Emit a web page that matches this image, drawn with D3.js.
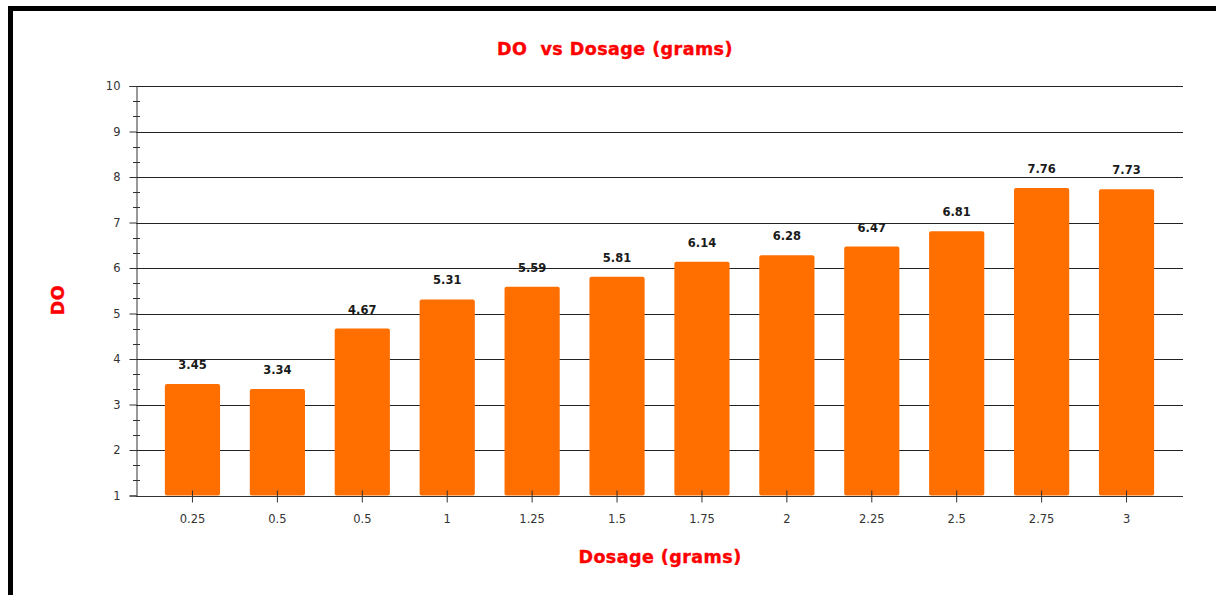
<!DOCTYPE html>
<html>
<head>
<meta charset="utf-8">
<script src="https://cdn.jsdelivr.net/npm/d3@7"></script>
<style>
  html, body { margin: 0; padding: 0; background: #fff; }
  svg { display: block; }
</style>
</head>
<body>
<svg id="chart" width="1216" height="595"></svg>
<script>
// Dissolved oxygen measured at each dosage step
const categories = ["0.25", "0.5", "0.5", "1", "1.25", "1.5", "1.75", "2", "2.25", "2.5", "2.75", "3"];
const doValues = [3.45, 3.34, 4.67, 5.31, 5.59, 5.81, 6.14, 6.28, 6.47, 6.81, 7.76, 7.73];
const yTicks = [1, 2, 3, 4, 5, 6, 7, 8, 9, 10];

const svg = d3.select("#chart");
const plotLeft = 136, plotRight = 1183, plotTop = 86, plotBottom = 495.5;

// Frame around the chart
svg.append("rect")
  .attr("x", 10.5).attr("y", 8.5)
  .attr("width", 1260).attr("height", 640)
  .attr("fill", "none").attr("stroke", "#000").attr("stroke-width", 5);

const idx = categories.map((c, i) => i);
const x = d3.scaleBand().domain(idx).range([plotLeft, plotRight]).paddingInner(0.35).paddingOuter(0.34);
const y = d3.scaleLinear().domain([1, 10]).range([plotBottom, plotTop]);

const tickFont = "'DejaVu Sans', sans-serif";

// Horizontal gridlines
svg.append("g").selectAll("line").data(yTicks.slice(1)).join("line")
  .attr("x1", plotLeft).attr("x2", plotRight)
  .attr("y1", d => Math.round(y(d)) + 0.5).attr("y2", d => Math.round(y(d)) + 0.5)
  .attr("stroke", "#222").attr("stroke-width", 1);

// Bars
svg.append("g").selectAll("rect").data(doValues).join("rect")
  .attr("x", (d, i) => x(i)).attr("width", x.bandwidth())
  .attr("y", d => y(d)).attr("height", d => y(1) - y(d))
  .attr("rx", 2).attr("ry", 2)
  .attr("fill", "#FF6F00");

// Value labels
svg.append("g").selectAll("text").data(doValues).join("text")
  .attr("x", (d, i) => x(i) + x.bandwidth() / 2)
  .attr("y", d => y(d) - 15)
  .attr("text-anchor", "middle")
  .attr("font-family", tickFont).attr("font-weight", "bold").attr("font-size", 11.5)
  .attr("fill", "#1a1a1a")
  .text(d => d.toFixed(2));

// Y axis with major and minor ticks
const yAxis = d3.axisLeft(y).tickValues(yTicks).tickSize(7).tickPadding(9).tickFormat(d3.format("d"));
const gy = svg.append("g").attr("transform", `translate(${plotLeft + 0.5},0)`).call(yAxis);
gy.select(".domain").attr("stroke", "#333");
gy.selectAll(".tick line").attr("stroke", "#333");
gy.selectAll(".tick text").attr("font-family", tickFont).attr("font-size", 11.5).attr("fill", "#333");

const minor = [];
yTicks.slice(0, -1).forEach(v => { minor.push(v + 1 / 3, v + 2 / 3); });
svg.append("g").selectAll("line").data(minor).join("line")
  .attr("x1", plotLeft - 3).attr("x2", plotLeft + 4)
  .attr("y1", d => Math.round(y(d)) + 0.5).attr("y2", d => Math.round(y(d)) + 0.5)
  .attr("stroke", "#333");

// X axis
const xAxis = d3.axisBottom(x).tickSize(6).tickPadding(12).tickFormat(i => categories[i]);
const gx = svg.append("g").attr("transform", `translate(0,${Math.round(plotBottom) + 0.5})`).call(xAxis);
gx.select(".domain").attr("d", `M${plotLeft},0H${plotRight}`).attr("stroke", "#333");
gx.selectAll(".tick line").attr("y1", -6).attr("y2", 6).attr("stroke", "#333");
gx.selectAll(".tick text").attr("font-family", tickFont).attr("font-size", 11.5).attr("fill", "#333");

// Titles
const titleFont = "'DejaVu Sans', sans-serif";
function titleText(sel) {
  return sel.attr("font-family", titleFont).attr("font-weight", "bold").attr("font-size", 17.5)
    .attr("letter-spacing", 0.45)
    .attr("fill", "#FF0000").attr("stroke", "#FF0000").attr("stroke-width", 0.4)
    .attr("text-anchor", "middle");
}
svg.append("text")
  .attr("x", 615).attr("y", 55)
  .attr("xml:space", "preserve")
  .call(titleText)
  .text("DO  vs Dosage (grams)");

svg.append("text")
  .attr("x", 660).attr("y", 563)
  .call(titleText)
  .text("Dosage (grams)");

svg.append("text")
  .attr("transform", "translate(64,300) rotate(-90)")
  .call(titleText)
  .text("DO");
</script>
</body>
</html>
